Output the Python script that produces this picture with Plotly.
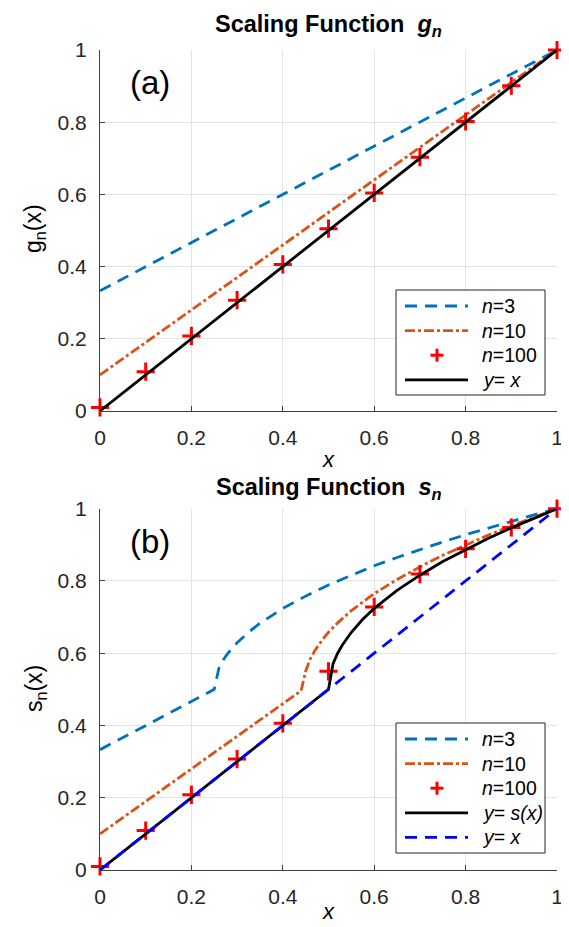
import plotly.graph_objects as go
from plotly.subplots import make_subplots

# ---------- data (a) ----------
ga_x = [0.0, 0.2, 0.4, 0.6, 0.8, 1.0]
g3_y = [0.333, 0.467, 0.600, 0.733, 0.867, 1.000]
g10_y = [0.100, 0.280, 0.460, 0.640, 0.820, 1.000]
dec_x = [0.0, 0.1, 0.2, 0.3, 0.4, 0.5, 0.6, 0.7, 0.8, 0.9, 1.0]
g100_y = [0.010, 0.109, 0.208, 0.307, 0.406, 0.505, 0.604, 0.703, 0.802, 0.901, 1.000]
ident_x = [0.0, 1.0]
ident_y = [0.0, 1.0]

# ---------- data (b) ----------
s3_x = [0.0, 0.1, 0.2, 0.25, 0.26, 0.27, 0.28, 0.29, 0.30, 0.325, 0.35, 0.40, 0.45,
        0.50, 0.55, 0.60, 0.65, 0.70, 0.75, 0.80, 0.85, 0.90, 0.95, 1.00]
s3_y = [0.333, 0.400, 0.467, 0.500, 0.558, 0.582, 0.600, 0.615, 0.629, 0.658, 0.683, 0.724, 0.758,
        0.789, 0.816, 0.842, 0.865, 0.887, 0.908, 0.928, 0.947, 0.965, 0.983, 1.000]
s10_x = [0.0, 0.2, 0.44, 0.45, 0.46, 0.47, 0.48, 0.49, 0.50, 0.51, 0.52, 0.55, 0.60, 0.65,
         0.70, 0.75, 0.80, 0.85, 0.90, 0.95, 1.00]
s10_y = [0.100, 0.280, 0.496, 0.550, 0.584, 0.607, 0.626, 0.643, 0.658, 0.672, 0.684, 0.718, 0.765, 0.804,
         0.839, 0.871, 0.900, 0.927, 0.953, 0.977, 1.000]
s100_y = [0.010, 0.109, 0.208, 0.307, 0.406, 0.550, 0.728, 0.819, 0.889, 0.948, 1.000]
s_x = [0.0, 0.50, 0.51, 0.52, 0.53, 0.54, 0.55, 0.575, 0.60, 0.65, 0.70, 0.75, 0.80, 0.85, 0.90, 0.95, 1.00]
s_y = [0.0, 0.500, 0.571, 0.600, 0.622, 0.641, 0.658, 0.694, 0.724, 0.774, 0.816, 0.854, 0.887, 0.918, 0.947, 0.974, 1.000]

ticks = [0, 0.2, 0.4, 0.6, 0.8, 1]

FONT = "Liberation Sans, Arial, Helvetica, sans-serif"
C3 = "#0072BD"
C10 = "#D95319"
CRED = "#FF0000"
LW = 2.8
DASH = "12px,8px"
DASHDOT = "10px,3px,3px,3px"

# page geometry (pixels)
W, H = 569, 927
L, R, T, B = 92, 20, 42, 65
PW, PH = W - L - R, H - T - B

def px(xp):
    return (xp - L) / PW

def py(yp):
    return (H - B - yp) / PH

fig = make_subplots(rows=2, cols=1)

# (a)
fig.add_trace(go.Scatter(x=ga_x, y=g3_y, mode="lines", name="n=3",
                         line=dict(color=C3, width=LW, dash=DASH)), row=1, col=1)
fig.add_trace(go.Scatter(x=ga_x, y=g10_y, mode="lines", name="n=10",
                         line=dict(color=C10, width=LW, dash=DASHDOT)), row=1, col=1)
fig.add_trace(go.Scatter(x=dec_x, y=g100_y, mode="markers", name="n=100", cliponaxis=False,
                         marker=dict(symbol="cross-thin", size=13, line=dict(color=CRED, width=3))),
              row=1, col=1)
fig.add_trace(go.Scatter(x=ident_x, y=ident_y, mode="lines", name="y=x",
                         line=dict(color="black", width=LW)), row=1, col=1)

# (b)
fig.add_trace(go.Scatter(x=s3_x, y=s3_y, mode="lines", name="n=3",
                         line=dict(color=C3, width=LW, dash=DASH)), row=2, col=1)
fig.add_trace(go.Scatter(x=s10_x, y=s10_y, mode="lines", name="n=10",
                         line=dict(color=C10, width=LW, dash=DASHDOT)), row=2, col=1)
fig.add_trace(go.Scatter(x=dec_x, y=s100_y, mode="markers", name="n=100", cliponaxis=False,
                         marker=dict(symbol="cross-thin", size=13, line=dict(color=CRED, width=3))),
              row=2, col=1)
fig.add_trace(go.Scatter(x=s_x, y=s_y, mode="lines", name="y=s(x)",
                         line=dict(color="black", width=LW)), row=2, col=1)
fig.add_trace(go.Scatter(x=ident_x, y=ident_y, mode="lines", name="y=x",
                         line=dict(color="#0000FF", width=LW, dash=DASH)), row=2, col=1)

axis_common = dict(range=[0, 1], tickvals=ticks, showgrid=True, gridcolor="#e3e3e3", gridwidth=1,
                   showline=True, linecolor="#404040", linewidth=1, mirror=False, zeroline=False,
                   ticks="inside", ticklen=5, tickcolor="#404040", ticklabelstandoff=8,
                   tickfont=dict(family=FONT, size=21, color="#262626"))
fig.update_xaxes(**axis_common)
fig.update_yaxes(**axis_common)
fig.update_yaxes(domain=[py(403), 1.0], row=1, col=1)
fig.update_yaxes(domain=[0.0, py(500.7)], row=2, col=1)

ann = []
def A(text, x, y, size, xref="paper", yref="paper", color="black", xanchor="center", **kw):
    ann.append(dict(text=text, x=x, y=y, xref=xref, yref=yref, showarrow=False,
                    xanchor=xanchor, yanchor="middle",
                    font=dict(family=FONT, size=size, color=color), **kw))

A("<b>Scaling Function  <i>g<sub>n</sub></i></b>", 0.5, py(18), 23.5)
A("<b>Scaling Function  <i>s<sub>n</sub></i></b>", 0.5, py(480), 23.5)
A("<i>x</i>", 0.5, py(451), 22)
A("<i>x</i>", 0.5, py(903), 22)
A("g<sub>n</sub>(x)", px(27), py(221), 23, textangle=-90)
A("s<sub>n</sub>(x)", px(27), py(681), 23, textangle=-90)
A("(a)", 0.109, 0.91, 33, xref="x", yref="y")
A("(b)", 0.109, 0.91, 33, xref="x2", yref="y2")

shapes = []
LEG_FONT = 19.5

def legend(box_top, box_bottom, rows):
    x0, x1 = 388, 537
    shapes.append(dict(type="rect", xref="paper", yref="paper", layer="above",
                       x0=px(x0), x1=px(x1), y0=py(box_bottom), y1=py(box_top),
                       fillcolor="white", line=dict(color="#262626", width=1)))
    for i, (kind, color, dash, label) in enumerate(rows):
        yc = box_top + 16 + i * 24.6
        if kind == "line":
            shapes.append(dict(type="line", xref="paper", yref="paper", layer="above",
                               x0=px(397), x1=px(460), y0=py(yc), y1=py(yc),
                               line=dict(color=color, width=LW, dash=dash)))
        else:
            cx = 429
            shapes.append(dict(type="line", xref="paper", yref="paper", layer="above",
                               x0=px(cx - 6.5), x1=px(cx + 6.5), y0=py(yc), y1=py(yc),
                               line=dict(color=color, width=3)))
            shapes.append(dict(type="line", xref="paper", yref="paper", layer="above",
                               x0=px(cx), x1=px(cx), y0=py(yc - 6.5), y1=py(yc + 6.5),
                               line=dict(color=color, width=3)))
        A(label, px(472), py(yc), LEG_FONT, xanchor="left")

legend(282, 387, [
    ("line", C3, DASH, "<i>n</i>=3"),
    ("line", C10, DASHDOT, "<i>n</i>=10"),
    ("plus", CRED, None, "<i>n</i>=100"),
    ("line", "black", "solid", "<i>y</i>= <i>x</i>"),
])
legend(715, 845, [
    ("line", C3, DASH, "<i>n</i>=3"),
    ("line", C10, DASHDOT, "<i>n</i>=10"),
    ("plus", CRED, None, "<i>n</i>=100"),
    ("line", "black", "solid", "<i>y</i>= <i>s(x)</i>"),
    ("line", "#0000FF", DASH, "<i>y</i>= <i>x</i>"),
])

fig.update_layout(
    width=W, height=H,
    margin=dict(l=L, r=R, t=T, b=B),
    paper_bgcolor="white", plot_bgcolor="white",
    font=dict(family=FONT, color="#262626"),
    showlegend=False,
    annotations=ann,
    shapes=shapes,
)

fig.write_html("out.html")
